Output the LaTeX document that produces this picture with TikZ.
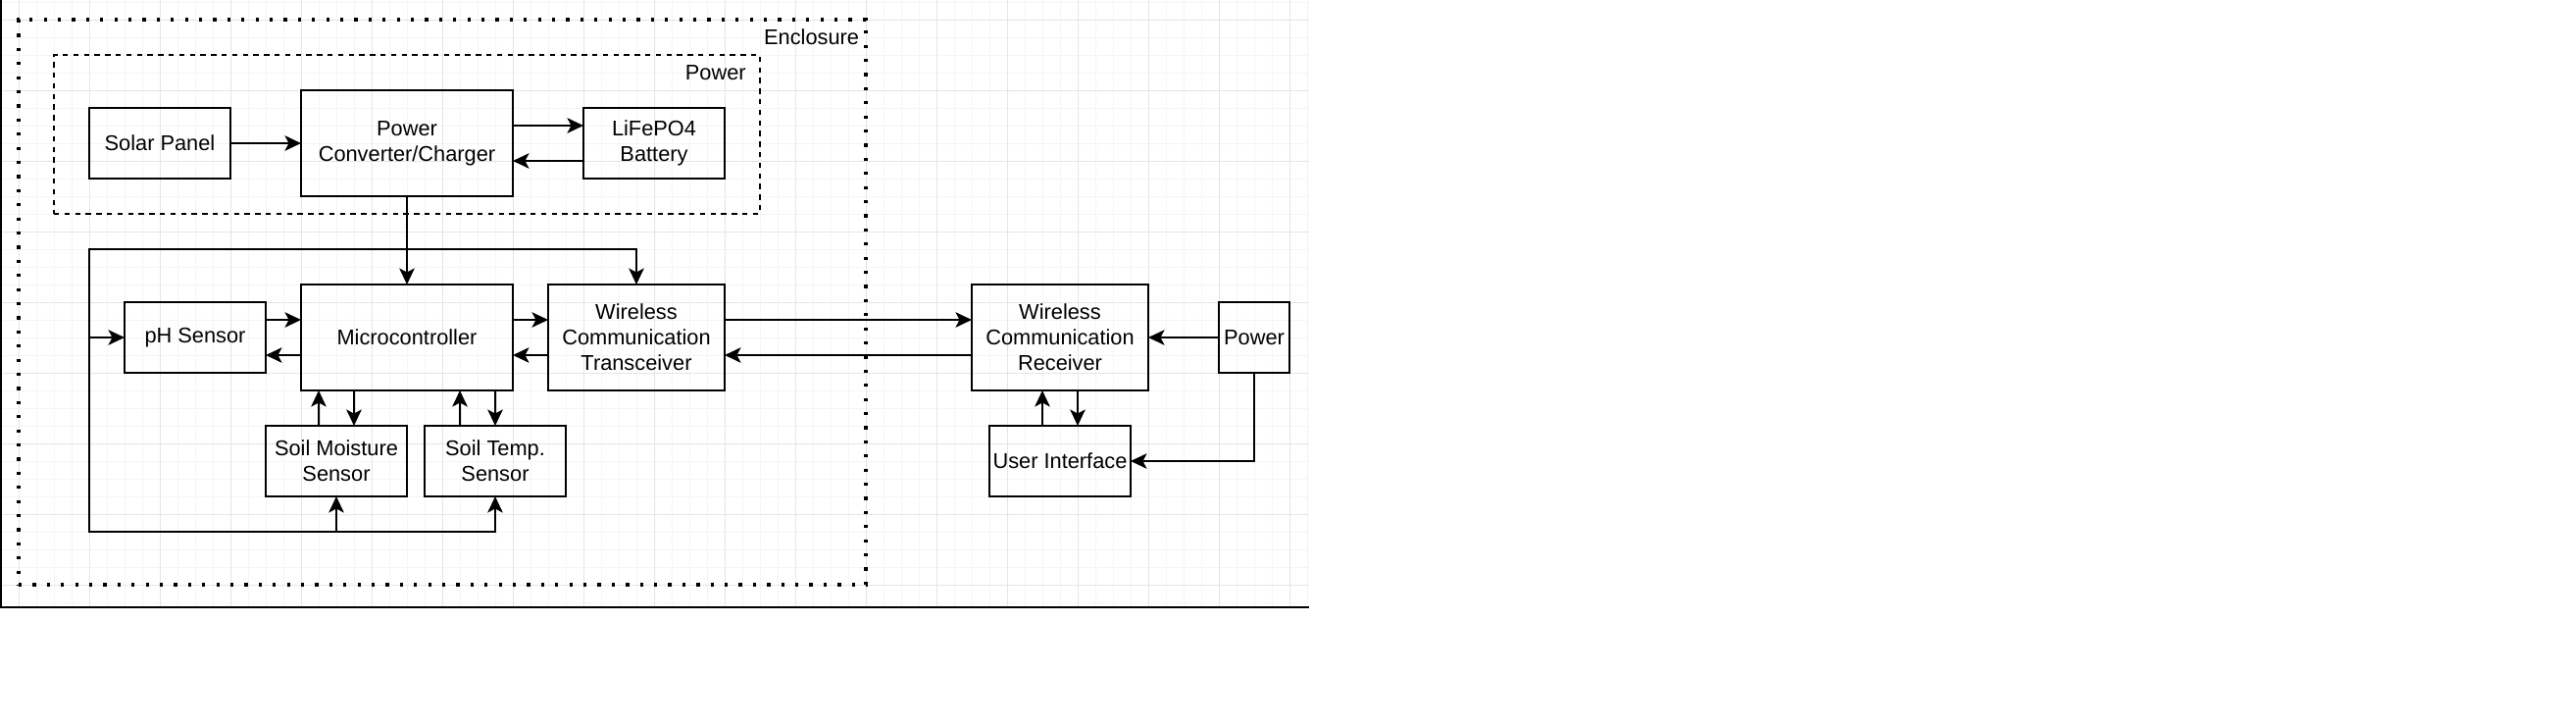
\documentclass[tikz,border=0pt]{standalone}
\usepackage{fontspec}
\setmainfont{Liberation Sans}
\usetikzlibrary{arrows.meta}
\tikzset{
	block/.style={rectangle,draw,line width=0.02cm,align=center,inner sep=0pt,outer sep=0pt,font=\fontsize{6.2pt}{7.4pt}\selectfont},
	sensor/.style={block,minimum width=1.44cm,minimum height=0.72cm},
	unit/.style={block,minimum width=2.16cm,minimum height=1.08cm},
	radio/.style={block,minimum width=1.8cm,minimum height=1.08cm},
	dashed group/.style={rectangle,draw,line width=0.02cm,dash pattern=on 0.054cm off 0.054cm,inner sep=0pt,outer sep=0pt},
	dotted group/.style={rectangle,draw,line width=0.033cm,dash pattern=on 0.033cm off 0.111cm,inner sep=0pt,outer sep=0pt},
	group label/.style={anchor=north east,inner sep=0pt,font=\fontsize{6.2pt}{7.4pt}\selectfont},
	grid minor/.style={draw=black!4,line width=0.01cm},
	grid major/.style={draw=black!10,line width=0.01cm}
}

\begin{document}
\begin{tikzpicture}[x=0.18cm,y=-0.18cm,line width=0.02cm
		,>={Stealth[length=0.165cm,width=0.155cm,inset=0.04cm]}
	]
	\useasboundingbox (-1.0556,-1.1111) rectangle (144.889,39.944);
	% page grid
	\foreach \k in {-1,...,73} {\draw[grid minor] (\k,-1.1111) -- (\k,33.28);}
	\foreach \k in {-1,...,33} {\draw[grid minor] (-1.0556,\k) -- (73.11,\k);}
	\foreach \k in {0,4,...,72} {\draw[grid major] (\k,-1.1111) -- (\k,33.28);}
	\foreach \k in {0,4,...,32} {\draw[grid major] (-1.0556,\k) -- (73.11,\k);}
	\draw[line width=0.02cm] (-0.99,-1.1111) -- (-0.99,33.28) -- (73.11,33.28);

	% groups
	\node [dotted group,minimum width=8.64cm,minimum height=5.76cm] (enclosure) at (24,16) {};
	\node [group label] (enclosure label) at ([xshift=-0.06cm,yshift=-0.09cm]enclosure.north east) {Enclosure};
	\node [dashed group,minimum width=7.2cm,minimum height=1.62cm] (powergroup) at (22,6.5) {};
	\node [group label] (powergroup label) at ([xshift=-0.133cm,yshift=-0.1cm]powergroup.north east) {Power};

	% blocks
	\node [sensor] (solar) at (8,7) {Solar Panel};
	\node [unit] (charger) at (22,7) {Power\\Converter/Charger};
	\node [sensor] (battery) at (36,7) {LiFePO4\\Battery};
	\node [unit] (mcu) at (22,18) {Microcontroller};
	\node [sensor] (ph) at (10,18) {pH Sensor};
	\node [radio] (transceiver) at (35,18) {Wireless\\Communication\\Transceiver};
	\node [sensor] (moisture) at (18,25) {Soil Moisture\\Sensor};
	\node [sensor] (temp) at (27,25) {Soil Temp.\\Sensor};
	\node [radio] (receiver) at (59,18) {Wireless\\Communication\\Receiver};
	\node [block,minimum width=0.72cm,minimum height=0.72cm] (supply) at (70,18) {Power};
	\node [sensor] (ui) at (59,25) {User Interface};

	% power lines
	\coordinate (bus) at (22,13);
	\coordinate (bus left) at (4,13);
	\coordinate (bus bottom) at (4,29);
	\draw[->] (solar) -- (charger);
	\draw[->] ([yshift=0.18cm]charger.east) -- ([yshift=0.18cm]battery.west);
	\draw[->] ([yshift=-0.18cm]battery.west) -- ([yshift=-0.18cm]charger.east);
	\draw[->] (charger) -- (mcu);
	\draw[->] (bus) -| (transceiver);
	\draw[->] (bus) -- (bus left) |- (ph);
	\draw[->] (bus left) -- (bus bottom) -| (moisture);
	\draw[->] (bus bottom) -| (temp);

	% data lines
	\draw[->] ([yshift=0.18cm]ph.east) -- ([yshift=0.18cm]mcu.west);
	\draw[->] ([yshift=-0.18cm]mcu.west) -- ([yshift=-0.18cm]ph.east);
	\draw[->] ([yshift=0.18cm]mcu.east) -- ([yshift=0.18cm]transceiver.west);
	\draw[->] ([yshift=-0.18cm]transceiver.west) -- ([yshift=-0.18cm]mcu.east);
	\draw[->] ([xshift=-0.18cm]moisture.north) -- ([xshift=-0.9cm]mcu.south);
	\draw[->] ([xshift=-0.54cm]mcu.south) -- ([xshift=0.18cm]moisture.north);
	\draw[->] ([xshift=-0.36cm]temp.north) -- ([xshift=0.54cm]mcu.south);
	\draw[->] ([xshift=0.9cm]mcu.south) -- (temp.north);
	\draw[->] ([yshift=0.18cm]transceiver.east) -- ([yshift=0.18cm]receiver.west);
	\draw[->] ([yshift=-0.18cm]receiver.west) -- ([yshift=-0.18cm]transceiver.east);

	% base station
	\draw[->] (supply) -- (receiver);
	\draw[->] (supply) |- (ui);
	\draw[->] ([xshift=-0.18cm]ui.north) -- ([xshift=-0.18cm]receiver.south);
	\draw[->] ([xshift=0.18cm]receiver.south) -- ([xshift=0.18cm]ui.north);
\end{tikzpicture}
\end{document}
